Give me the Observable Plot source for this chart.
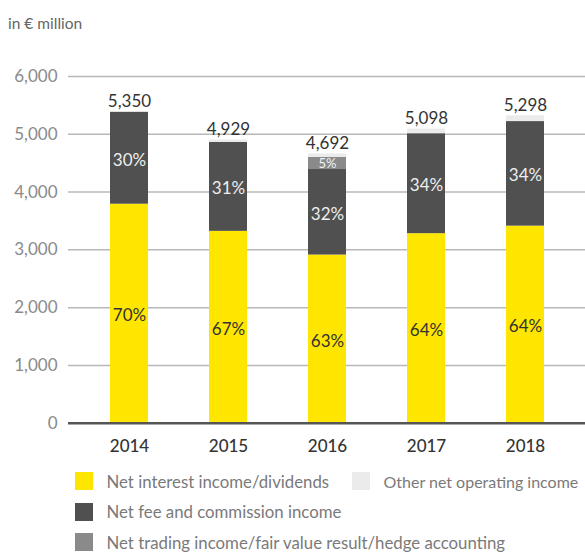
<!DOCTYPE html>
<html><head><meta charset="utf-8">
<script src="https://cdn.jsdelivr.net/npm/d3@7"></script>
<script src="https://cdn.jsdelivr.net/npm/@observablehq/plot@0.6"></script>
<style>
body{margin:0;background:#fff;font-family:Lato,sans-serif;}
#wrap{position:relative;width:585px;height:552px;overflow:hidden;}
#title{position:absolute;left:8px;top:14px;font-size:15.5px;color:#666;}
#chart{position:absolute;left:0;top:0;}
.leg{position:absolute;font-size:16.8px;color:#7a7a7a;display:flex;align-items:center;white-space:nowrap;height:18px;}
.sw{width:18px;height:18px;margin-right:13.5px;flex:none;}
</style></head><body>
<div id="wrap"><div id="chart"></div><div id="title">in € million</div><div id="legend"></div></div>
<script>
const years = ["2014", "2015", "2016", "2017", "2018"];
const series = ["Net interest income/dividends", "Net fee and commission income", "Net trading income/fair value result/hedge accounting", "Other net operating income"];
const colors = ["#ffe600", "#505050", "#8a8a8a", "#ebebeb"];
const netInterest = [3790, 3320, 2910, 3280, 3410];
const netFee = [1590, 1540, 1480, 1730, 1810];
const netTrading = [0, 0, 210, 0, 0];
const otherIncome = [0, 40, 60, 80, 100];
const totals = [5350, 4929, 4692, 5098, 5298];
const interestPct = ["70%", "67%", "63%", "64%", "64%"];
const feePct = ["30%", "31%", "32%", "34%", "34%"];
const tradingPct = ["", "", "5%", "", ""];
const otherPct = ["", "", "", "", ""];
const yTicks = [0, 1000, 2000, 3000, 4000, 5000, 6000];

const valueArrays = [netInterest, netFee, netTrading, otherIncome];
const pctArrays = [interestPct, feePct, tradingPct, otherPct];
const rows = [];
years.forEach((year, i) => {
  series.forEach((s, j) => {
    rows.push({year, series: s, value: valueArrays[j][i], pct: pctArrays[j][i]});
  });
});
const tops = years.map((year, i) => ({
  year,
  total: totals[i],
  top: valueArrays.reduce((a, arr) => a + arr[i], 0)
}));

const chart = Plot.plot({
  width: 585,
  height: 460,
  marginLeft: 68,
  marginRight: 0,
  marginTop: 76,
  marginBottom: 37.3,
  style: {fontFamily: "Lato, sans-serif", background: "transparent"},
  x: {domain: years, paddingInner: 0.62, paddingOuter: 0.42, label: null},
  y: {domain: [0, 6000], label: null},
  color: {domain: series, range: colors},
  marks: [
    Plot.gridY(yTicks.filter(d => d > 0), {stroke: "#b8b8b8", strokeOpacity: 1, strokeWidth: 1.5}),
    Plot.barY(rows, {x: "year", y: "value", fill: "series"}),
    Plot.ruleY([0], {stroke: "#555", strokeWidth: 2.5}),
    Plot.axisY({ticks: yTicks, tickSize: 0, tickPadding: 11, tickFormat: d3.format(","), fontSize: 17, fill: "#8a8a8a"}),
    Plot.axisX({tickSize: 0, tickPadding: 17, fontSize: 17, fill: "#333", fontWeight: 500}),
    Plot.text(rows, Plot.stackY({x: "year", y: "value", z: "series", text: d => d.series === series[0] ? d.pct : "", fill: "#333", fontSize: 17, dy: 2})),
    Plot.text(rows, Plot.stackY({x: "year", y: "value", z: "series", text: d => d.series === series[1] ? d.pct : "", fill: "#eeeeee", fontSize: 17, dy: 2})),
    Plot.text(rows, Plot.stackY({x: "year", y: "value", z: "series", text: d => d.series === series[2] ? d.pct : "", fill: "#f2f2f2", fontSize: 13})),
    Plot.text(tops, {x: "year", y: "top", text: d => d3.format(",")(d.total), dy: -5, lineAnchor: "bottom", fontSize: 17, fill: "#333"})
  ]
});
document.getElementById("chart").appendChild(chart);

const legendPos = [[75, 472], [75, 502.5], [75, 533], [352, 472]];
const legendSize = [16.8, 16.8, 16.8, 16];
const legend = document.getElementById("legend");
series.forEach((s, j) => {
  const item = document.createElement("div");
  item.className = "leg";
  item.style.left = legendPos[j][0] + "px";
  item.style.top = legendPos[j][1] + "px";
  item.style.fontSize = legendSize[j] + "px";
  const sw = document.createElement("span");
  sw.className = "sw";
  sw.style.background = colors[j];
  const tx = document.createElement("span");
  tx.textContent = s;
  item.appendChild(sw);
  item.appendChild(tx);
  legend.appendChild(item);
});
</script>
</body></html>
